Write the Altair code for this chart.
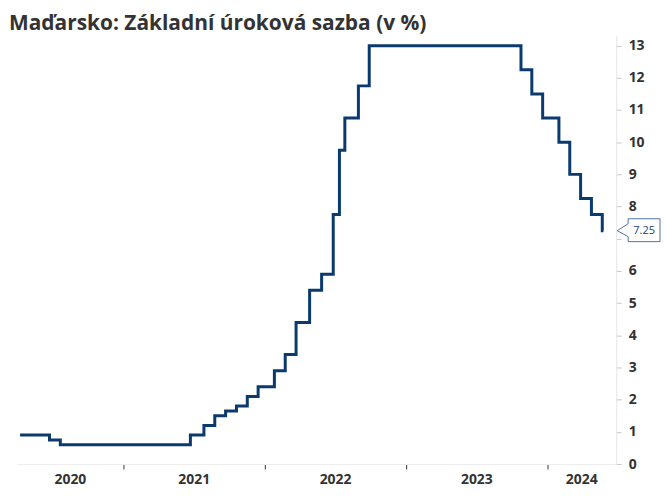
import altair as alt
import pandas as pd

# ---- data ----
change_dates = ["2020-04-08", "2020-06-23", "2020-07-21", "2021-06-22", "2021-07-27",
                "2021-08-24", "2021-09-21", "2021-10-19", "2021-11-16", "2021-12-14",
                "2022-01-25", "2022-02-22", "2022-03-22", "2022-04-26", "2022-05-27",
                "2022-06-26", "2022-07-12", "2022-07-26", "2022-08-30", "2022-09-27",
                "2023-10-24", "2023-11-21", "2023-12-19", "2024-01-30", "2024-02-27",
                "2024-03-26", "2024-04-23", "2024-05-21", "2024-05-24"]
rates = [0.9, 0.75, 0.6, 0.9, 1.2,
         1.5, 1.65, 1.8, 2.1, 2.4,
         2.9, 3.4, 4.4, 5.4, 5.9,
         7.75, 9.75, 10.75, 11.75, 13.0,
         12.25, 11.5, 10.75, 10.0, 9.0,
         8.25, 7.75, 7.25, 7.25]
years = [2020, 2021, 2022, 2023, 2024]
y_ticks = list(range(0, 14))
title_text = "Maďarsko: Základní úroková sazba (v %)"
last_label = "7.25"

domain_start = pd.Timestamp("2020-03-31")
domain_end = pd.Timestamp("2024-06-26")

W, H = 602, 430
LINE = "#0a3a6e"
TXT = "#333333"
FONT = "Open Sans"

df = pd.DataFrame({"date": change_dates, "rate": rates})

# year labels centred on the visible part of each year
mids = []
for y in years:
    s = max(pd.Timestamp(year=y, month=1, day=1), domain_start)
    e = min(pd.Timestamp(year=y + 1, month=1, day=1), domain_end)
    mids.append((s + (e - s) / 2).strftime("%Y-%m-%d"))
ydf = pd.DataFrame({"date": mids, "label": [str(y) for y in years]})

xscale = alt.Scale(domain=[alt.DateTime(year=2020, month=3, date=31),
                           alt.DateTime(year=2024, month=6, date=26)])
yscale = alt.Scale(domain=[0, 13.3], nice=False)

# the label under the last-value callout is hidden, as in the reference
hidden = int(rates[-1])
xaxis = alt.Axis(values=[alt.DateTime(year=y, month=1, date=1) for y in years[1:]],
                 labels=False, grid=False, domainColor="#eeeeee", title=None,
                 tickColor="#333333", tickSize=5, tickWidth=1)
yaxis = alt.Axis(orient="right", values=y_ticks, grid=False, labelOverlap=False,
                 domainColor="#e6e6e6", tickColor="#c8c8c8", tickSize=5, title=None,
                 labelPadding=7, labelFont=FONT, labelFontSize=14,
                 labelExpr=f"datum.value == {hidden} ? '' : datum.label",
                 labelFontWeight="bold", labelColor=TXT, labelAlign="left")

line = alt.Chart(df).mark_line(
    interpolate="step-after", color=LINE, strokeWidth=3, strokeJoin="miter"
).encode(
    x=alt.X("date:T", scale=xscale, axis=xaxis),
    y=alt.Y("rate:Q", scale=yscale, axis=yaxis),
)

year_text = alt.Chart(ydf).mark_text(
    font=FONT, fontSize=14, fontWeight="bold", color=TXT, baseline="middle", align="center"
).encode(
    x=alt.X("date:T", scale=xscale, axis=xaxis),
    y=alt.value(H + 16),
    text="label:N",
)

last_df = pd.DataFrame({"rate": [rates[-1]], "label": [last_label]})
callout = alt.Chart(last_df).mark_point(
    shape="M0,0L11,-7L11,-12L43,-12L43,11L11,11L11,6Z", size=4,
    fill="white", fillOpacity=1, stroke="#4f74a8", strokeWidth=1, opacity=1
).encode(
    x=alt.value(W + 1),
    y=alt.Y("rate:Q", scale=yscale, axis=yaxis),
)
callout_text = alt.Chart(last_df).mark_text(
    font=FONT, fontSize=11, color="#1f3f6e", align="center", baseline="middle"
).encode(
    x=alt.value(W + 28),
    y=alt.Y("rate:Q", scale=yscale, axis=yaxis),
    text="label:N",
)

title_df = pd.DataFrame({"t": [title_text]})
title = alt.Chart(title_df).mark_text(
    font=FONT, fontSize=21, fontWeight="bold", color=TXT, align="left", baseline="alphabetic"
).encode(
    x=alt.value(-8),
    y=alt.value(-6),
    text="t:N",
)

chart = alt.layer(line, callout, callout_text, year_text, title).properties(
    width=W, height=H,
    autosize=alt.AutoSizeParams(type="none"),
    padding={"left": 9, "top": 27, "right": 46, "bottom": 29},
    background="white",
).configure_view(stroke=None)

chart.save("out.html", embed_options={"renderer": "svg", "actions": False})
